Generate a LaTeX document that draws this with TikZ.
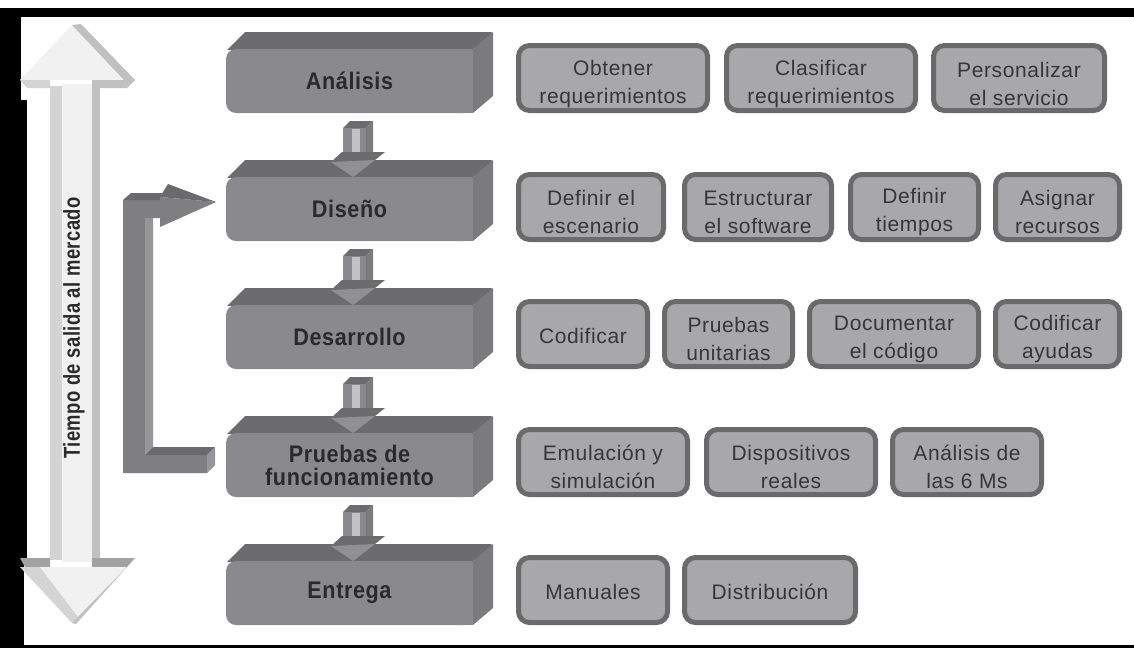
\documentclass[tikz,border=0pt]{standalone}
\usepackage{fontspec}
\setmainfont{Liberation Sans}
\newfontfamily\mainfnt[LetterSpace=2.5,FakeStretch=0.9]{Liberation Sans}
\newfontfamily\subfnt[LetterSpace=3]{Liberation Sans}
\newfontfamily\sidefnt[LetterSpace=2,FakeStretch=0.8]{Liberation Sans}
\usetikzlibrary{calc}
\definecolor{bxfront}{HTML}{8A8A8C}
\definecolor{bxtop}{HTML}{6C6C6E}
\definecolor{bxside}{HTML}{7B7B7D}
\definecolor{headfront}{HTML}{909092}
\definecolor{arrlight}{HTML}{C2C2C4}
\definecolor{subout}{HTML}{6A6A6A}
\definecolor{subin}{HTML}{A8A8AA}
\definecolor{txtd}{HTML}{2A2A2A}
\definecolor{txts}{HTML}{363636}
\definecolor{awhite}{HTML}{F1F1F1}
\definecolor{alight}{HTML}{D4D4D4}
\definecolor{agray}{HTML}{C0C0C0}
\definecolor{adark}{HTML}{A2A2A2}
\definecolor{lfront}{HTML}{7F7F81}
\definecolor{ltop}{HTML}{6A6A6C}
\definecolor{lside}{HTML}{969698}
\tikzset{
  mainlbl/.style={font=\mainfnt\bfseries\fontsize{24}{23}\selectfont, text=txtd, align=center, inner sep=0pt},
  subbox/.style={fill=subin, draw=subout, line width=5pt, rounded corners=11pt, inner sep=0pt,
    preaction={fill=subout, transform canvas={xshift=-1.5pt,yshift=-1.5pt}}},
  sublbl/.style={font=\subfnt\fontsize{21}{28}\selectfont, text=txts, align=center, inner sep=0pt},
  sidelbl/.style={font=\sidefnt\bfseries\fontsize{23}{23}\selectfont, text=txtd, inner sep=0pt, rotate=90},
}
\newcommand\subnode[6]{%
  \node[subbox, minimum width={#3-#2-5}, minimum height=65] (#1) at ({(#2+#3)/2},#4) {};
  \node[sublbl] (#1t) at ([yshift=#5]#1.center) {#6};
}
\begin{document}
\begin{tikzpicture}[x=1pt,y=-1pt]
\useasboundingbox (0,0) rectangle (1134,648);
\fill[white] (0,0) rectangle (1134,648);
% scan border
\fill[black] (0,8) rectangle (1134,17);
\fill[black] (0,8) rectangle (21,100);
\fill[black] (0,100) rectangle (27,560);
\fill[black] (0,560) rectangle (24,648);
\fill[black] (0,645) rectangle (1134,648);

% big double arrow
\fill[alight] (50,86) rectangle (62,560);
\fill[awhite] (62,84) rectangle (92,562);
\fill[agray] (92,86) rectangle (100,560);
\fill[awhite] (72,25) -- (20,80) -- (124,80) -- cycle;
\fill[agray] (72,25) -- (81,24) -- (135,80) -- (127,88) -- (124,80) -- cycle;
\fill[alight] (20,80) -- (50,80) -- (50,88) -- (27,88) -- cycle;
\fill[agray] (92,80) -- (124,80) -- (127,88) -- (92,88) -- cycle;
\fill[adark] (20,558) -- (50,558) -- (50,567) -- (25,567) -- cycle;
\fill[adark] (92,558) -- (135,558) -- (127,567) -- (92,567) -- cycle;
\fill[alight] (20,567) -- (127,567) -- (72,623) -- cycle;
\fill[awhite] (40,567) -- (127,567) -- (78,617) -- cycle;
\fill[agray] (127,567) -- (135,558) -- (76,624) -- (72,623) -- cycle;
\node[sidelbl] (tiempo) at (74,328) {Tiempo de salida al mercado};

% feedback arrow
\fill[lfront] (123,200) -- (160,200) -- (160,218) -- (145,218) -- (145,455) -- (207,455) -- (207,473) -- (123,473) -- cycle;
\fill[ltop] (123,200) -- (131,193) -- (162,193) -- (160,200) -- cycle;
\fill[lside] (145,218) -- (153,218) -- (153,447) -- (145,455) -- cycle;
\fill[ltop] (145,455) -- (153,447) -- (215,447) -- (207,455) -- cycle;
\fill[lside] (207,455) -- (215,447) -- (215,465) -- (207,473) -- cycle;
\fill[lfront] (160,197) -- (216,202) -- (160,227) -- cycle;
\fill[ltop] (160,197) -- (168,184) -- (216,202) -- cycle;

% main 3D boxes
\foreach \c/\n/\t in {78/ana/{Análisis},206/dis/{Diseño},334/des/{Desarrollo},462/pru/{Pruebas de\\funcionamiento},590/ent/{Entrega}}{
  \fill[bxtop] (227,\c-28) -- (245,\c-46) -- (491,\c-46) -- (493,\c-44) -- (473,\c-29) -- cycle;
  \fill[bxside] (473,\c-29) -- (493,\c-46) -- (493,\c+18) -- (473,\c+35) -- cycle;
  \fill[bxfront,rounded corners=10pt] (226,\c-29) rectangle (473,\c+35);
  \fill[bxfront] (440,\c-29) rectangle (473,\c+35);
  \node[mainlbl] (\n) at (349.5,\c+3) {\t};
}
% down arrows
\foreach \c in {78,206,334,462}{
  \fill[bxtop] (343,\c+50) -- (350,\c+43) -- (373,\c+43) -- (366,\c+50) -- cycle;
  \fill[bxside] (366,\c+50) -- (373,\c+43) -- (373,\c+76) -- (366,\c+78) -- cycle;
  \fill[bxfront] (343,\c+50) rectangle (366,\c+78);
  \fill[arrlight] (352,\c+51) rectangle (360,\c+78);
  \fill[bxtop] (331,\c+84) -- (342,\c+74) -- (385,\c+74) -- (375,\c+82) -- cycle;
  \fill[headfront] (331,\c+84) -- (375,\c+82) -- (353,\c+99) -- cycle;
}

% sub boxes
\subnode{a1}{516}{710}{78}{-6pt}{Obtener\\requerimientos}
\subnode{a2}{724}{918}{78}{-6pt}{Clasificar\\requerimientos}
\subnode{a3}{931}{1107}{78}{-6pt}{Personalizar\\el servicio}
\subnode{b1}{516}{666}{207}{-5pt}{Definir el\\escenario}
\subnode{b2}{682}{834}{207}{-5pt}{Estructurar\\el software}
\subnode{b3}{848}{981}{207}{-5pt}{Definir\\tiempos}
\subnode{b4}{993}{1122}{207}{-5pt}{Asignar\\recursos}
\subnode{c1}{516}{650}{334}{-2pt}{Codificar}
\subnode{c2}{662}{795}{334}{-5pt}{Pruebas\\unitarias}
\subnode{c3}{807}{981}{334}{-5pt}{Documentar\\el código}
\subnode{c4}{993}{1122}{334}{-5pt}{Codificar\\ayudas}
\subnode{d1}{516}{690}{462}{-5pt}{Emulación y\\simulación}
\subnode{d2}{704}{878}{462}{-5pt}{Dispositivos\\reales}
\subnode{d3}{890}{1044}{462}{-5pt}{Análisis de\\las 6 Ms}
\subnode{e1}{516}{670}{590}{-2pt}{Manuales}
\subnode{e2}{682}{858}{590}{-2pt}{Distribución}
\end{tikzpicture}
\end{document}
